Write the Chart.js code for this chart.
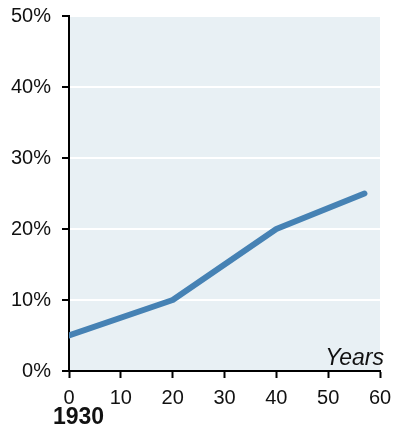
<!DOCTYPE html>
<html>
<head>
<meta charset="utf-8">
<script src="https://cdn.jsdelivr.net/npm/chart.js@4/dist/chart.umd.min.js"></script>
<style>
  html, body { margin: 0; padding: 0; background: #ffffff; }
  #wrap { width: 393px; height: 427px; position: relative; }
</style>
</head>
<body>
<div id="wrap"><canvas id="chart"></canvas></div>
<script>
// Years elapsed since the base year, and the share reached at each point
const yearsElapsed = [0, 20, 40, 57];
const sharePct = [5, 10, 20, 25];

// Axis settings
const xTickValues = [0, 10, 20, 30, 40, 50, 60];
const yTickValues = [0, 10, 20, 30, 40, 50];
const baseYearLabel = '1930';
const xAxisTitle = 'Years';

const FONT = '"Liberation Sans", Arial, Helvetica, sans-serif';

// Shaded plot area behind the gridlines
const plotBackground = {
  id: 'plotBackground',
  beforeDraw(chart) {
    const { ctx, chartArea: a } = chart;
    ctx.save();
    ctx.fillStyle = '#e8f0f4';
    ctx.fillRect(a.left, a.top, a.right - a.left, a.bottom - a.top);
    ctx.restore();
  }
};

// Axis title inside the plot corner and the base year under the origin
const axisNotes = {
  id: 'axisNotes',
  afterDraw(chart) {
    const { ctx, chartArea: a } = chart;
    const xs = chart.scales.x;
    ctx.save();
    ctx.fillStyle = '#111111';
    ctx.textBaseline = 'alphabetic';
    ctx.font = 'italic 23px ' + FONT;
    ctx.textAlign = 'right';
    ctx.fillText(xAxisTitle, a.right + 4, a.bottom - 6);
    ctx.font = 'bold 23px ' + FONT;
    ctx.textAlign = 'left';
    ctx.fillText(baseYearLabel, xs.getPixelForValue(0) - 16, chart.height - 3);
    ctx.restore();
  }
};

new Chart(document.getElementById('chart'), {
  type: 'line',
  data: {
    datasets: [{
      data: yearsElapsed.map((x, i) => ({ x, y: sharePct[i] })),
      borderColor: '#4682b4',
      borderWidth: 6,
      borderCapStyle: 'round',
      borderJoinStyle: 'round',
      pointRadius: 0,
      pointHoverRadius: 0,
      tension: 0,
      fill: false,
      clip: 0
    }]
  },
  options: {
    responsive: true,
    maintainAspectRatio: false,
    animation: false,
    events: [],
    layout: { autoPadding: false, padding: { top: 16, right: 13, left: 0, bottom: 0 } },
    plugins: {
      legend: { display: false },
      tooltip: { enabled: false }
    },
    scales: {
      x: {
        type: 'linear',
        min: 0,
        max: 60,
        afterBuildTicks(s) { s.ticks = xTickValues.map(v => ({ value: v })); },
        afterFit(s) {
          s.height = 56;
          s.paddingLeft = 0;
          s.paddingRight = 0;
        },
        grid: {
          drawOnChartArea: false,
          drawTicks: true,
          tickLength: 7,
          tickWidth: 2,
          tickColor: '#000000'
        },
        border: { display: true, color: '#000000', width: 2 },
        ticks: {
          color: '#111111',
          padding: 8,
          maxRotation: 0,
          font: { family: FONT, size: 20 }
        }
      },
      y: {
        type: 'linear',
        min: 0,
        max: 50,
        afterBuildTicks(s) { s.ticks = yTickValues.map(v => ({ value: v })); },
        afterFit(s) {
          s.width = 69;
          s.paddingTop = 0;
          s.paddingBottom = 0;
        },
        grid: {
          color: '#ffffff',
          lineWidth: 2,
          drawTicks: true,
          tickLength: 7,
          tickWidth: 2,
          tickColor: '#000000'
        },
        border: { display: true, color: '#000000', width: 2 },
        ticks: {
          color: '#111111',
          padding: 11,
          font: { family: FONT, size: 20 },
          callback: v => v + '%'
        }
      }
    }
  },
  plugins: [plotBackground, axisNotes]
});
</script>
</body>
</html>
